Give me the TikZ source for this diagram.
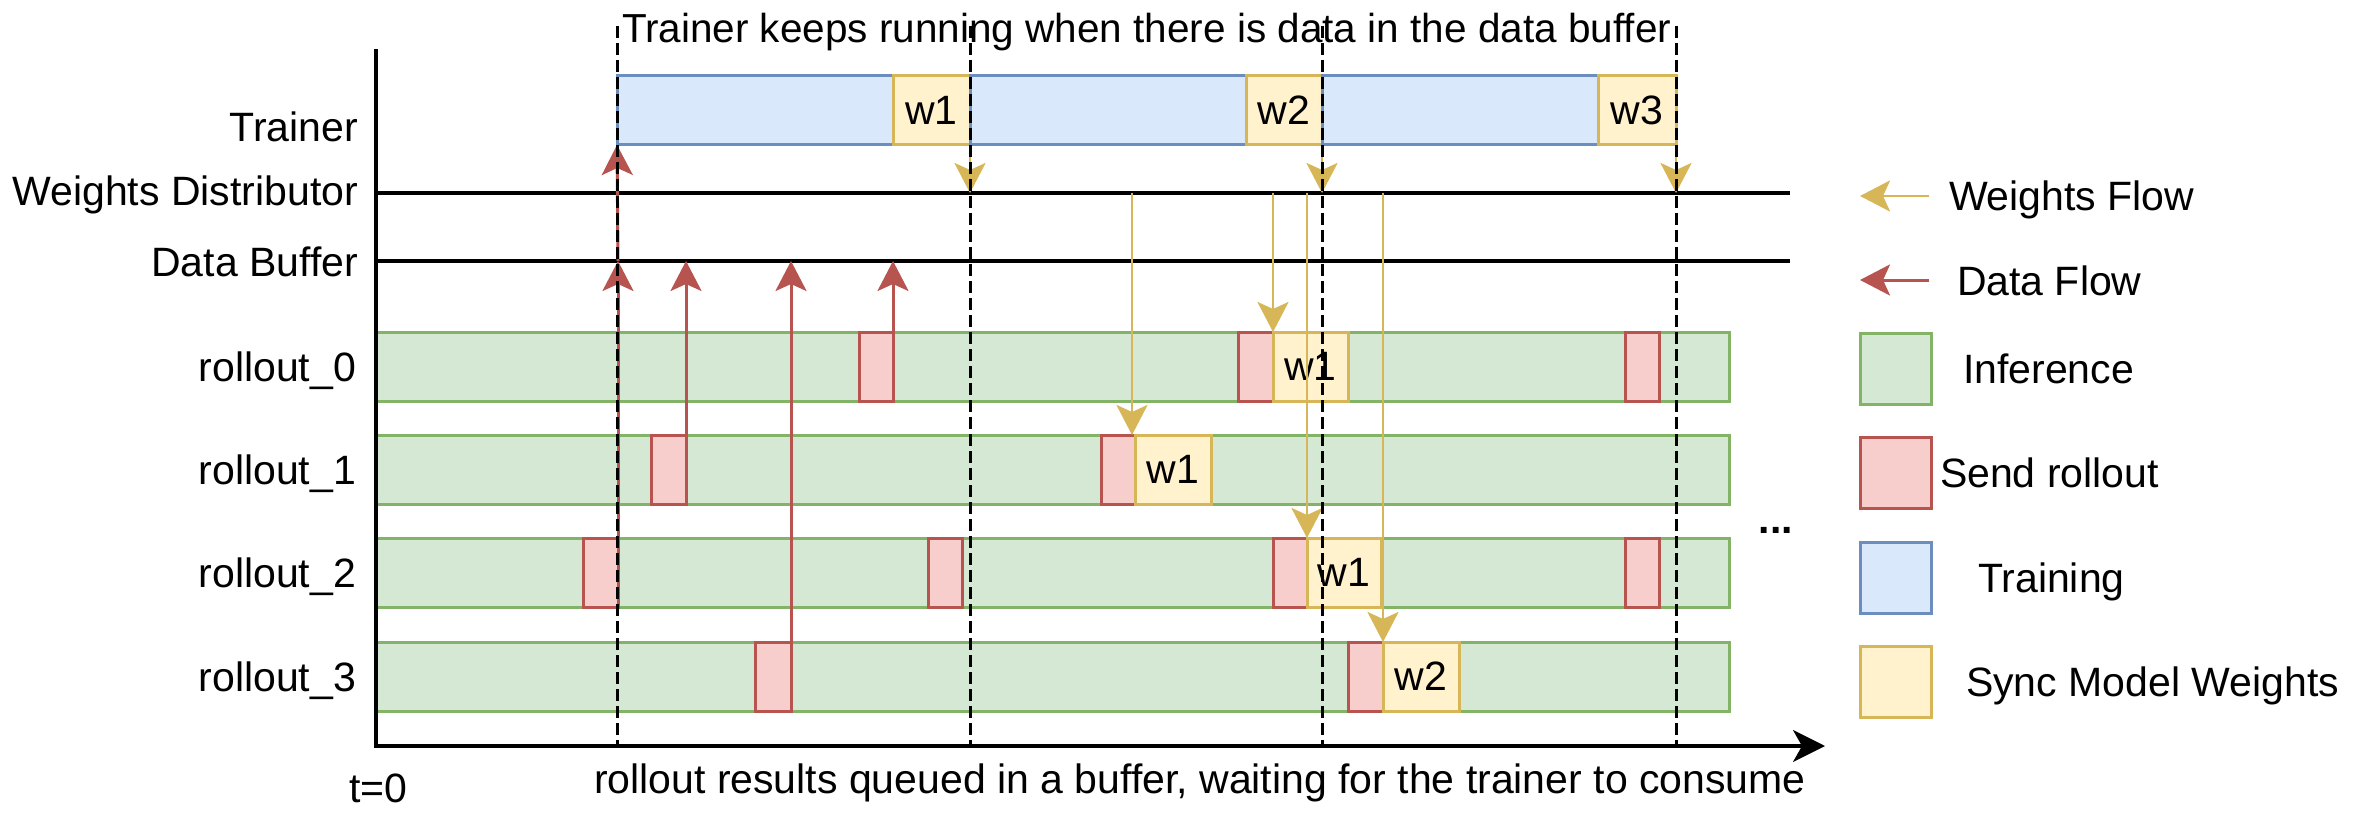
\documentclass[tikz,border=0pt]{standalone}
\usepackage{fontspec}
\setmainfont{Liberation Sans}
\usetikzlibrary{arrows.meta}
\definecolor{gfill}{HTML}{D5E8D4}
\definecolor{gdraw}{HTML}{82B366}
\definecolor{rfill}{HTML}{F8CECC}
\definecolor{rdraw}{HTML}{B85450}
\definecolor{bfill}{HTML}{DAE8FC}
\definecolor{bdraw}{HTML}{6C8EBF}
\definecolor{yfill}{HTML}{FFF2CC}
\definecolor{ydraw}{HTML}{D6B656}
\begin{document}
\begin{tikzpicture}[x=1pt,y=-1pt,
  txt/.style={inner sep=0pt, outer sep=0pt, font=\fontsize{41}{49}\selectfont},
  box/.style={draw, line width=3pt, inner sep=0pt, outer sep=0pt, anchor=north west, minimum height=69pt, font=\fontsize{41}{49}\selectfont},
  inf/.style={box, fill=gfill, draw=gdraw},
  snd/.style={box, fill=rfill, draw=rdraw},
  trn/.style={box, fill=bfill, draw=bdraw},
  syn/.style={box, fill=yfill, draw=ydraw},
  hline/.style={line width=3.5pt, draw=black},
  dline/.style={line width=3pt, draw=black, dash pattern=on 12pt off 5pt},
  tip/.style={-{Stealth[length=30pt,width=31pt,inset=7pt]}},
  rarr/.style={draw=rdraw, line width=3pt, tip},
  yarr/.style={draw=ydraw, line width=2.8pt, tip},
]
\useasboundingbox[fill=white] (0,0) rectangle (2355,813);

% axis and timeline coordinates
\coordinate (ytop) at (376,49);
\coordinate (o) at (376,746);
\coordinate (xend) at (1825,746);
\coordinate (wd) at (376,193);
\coordinate (wdE) at (1790,193);
\coordinate (db) at (376,261);
\coordinate (dbE) at (1790,261);
\coordinate (dtop) at (376,26);

% rollout bars
\node[inf, minimum width=1353pt] (r0) at (376,332) {};
\node[inf, minimum width=1353pt] (r1) at (376,435) {};
\node[inf, minimum width=1353pt] (r2) at (376,538) {};
\node[inf, minimum width=1353pt] (r3) at (376,642) {};

% rollout_0
\node[snd, minimum width=34pt] (r0a) at (859,332) {};
\node[snd, minimum width=35pt] (r0b) at (1238,332) {};
\node[syn, minimum width=75pt] (r0w) at (1273,332) {w1};
\node[snd, minimum width=34pt] (r0c) at (1625,332) {};
% rollout_1
\node[snd, minimum width=35pt] (r1a) at (651,435) {};
\node[snd, minimum width=34pt] (r1b) at (1101,435) {};
\node[syn, minimum width=76pt] (r1w) at (1135,435) {w1};
% rollout_2
\node[snd, minimum width=35pt] (r2a) at (583,538) {};
\node[snd, minimum width=34pt] (r2b) at (928,538) {};
\node[snd, minimum width=34pt] (r2c) at (1273,538) {};
\node[syn, minimum width=74pt] (r2w) at (1307,538) {w1};
\node[snd, minimum width=34pt] (r2d) at (1625,538) {};
% rollout_3
\node[snd, minimum width=36pt] (r3a) at (755,642) {};
\node[snd, minimum width=35pt] (r3b) at (1348,642) {};
\node[syn, minimum width=76pt] (r3w) at (1383,642) {w2};

% trainer
\node[trn, minimum width=276pt] (tb1) at (617,76) {};
\node[syn, minimum width=77pt] (tw1) at (893,76) {w1};
\node[trn, minimum width=276pt] (tb2) at (970,76) {};
\node[syn, minimum width=76pt] (tw2) at (1246,76) {w2};
\node[trn, minimum width=276pt] (tb3) at (1322,76) {};
\node[syn, minimum width=78pt] (tw3) at (1598,76) {w3};

% row labels
\node[txt, anchor=base east] (lt) at (358,142) {Trainer};
\node[txt, anchor=base east] (lw) at (358,206) {Weights Distributor};
\node[txt, anchor=base east] (ld) at (358,276) {Data Buffer};
\node[txt, anchor=base east] (l0) at (356,381) {rollout\_0};
\node[txt, anchor=base east] (l1) at (356,484) {rollout\_1};
\node[txt, anchor=base east] (l2) at (356,587) {rollout\_2};
\node[txt, anchor=base east] (l3) at (356,691) {rollout\_3};

% other texts
\node[txt, anchor=base west, font=\fontsize{40.5}{48}\selectfont] (ttop) at (622,43) {Trainer keeps running when there is data in the data buffer};
\node[txt, anchor=base west] (t0) at (349,802) {t=0};
\node[txt, anchor=base west] (tbot) at (594,793) {rollout results queued in a buffer, waiting for the trainer to consume};
\node[txt, anchor=base, font=\fontsize{41}{49}\selectfont\bfseries] (dots) at (1776,533) {...};

% axes and lanes
\draw[hline, line join=miter, -{Stealth[length=32pt,width=32pt,inset=9pt]}] (ytop) -- (o) -- (xend);
\draw[hline] (wd) -- (wdE);
\draw[hline] (db) -- (dbE);

% data flow
\draw[rarr] (r2a.north east) -- (r2a.north east |- db);
\draw[rarr] (r2a.north east |- db) -- (tb1.south west);
\draw[rarr] (r1a.north east) -- (r1a.north east |- db);
\draw[rarr] (r3a.north east) -- (r3a.north east |- db);
\draw[rarr] (r0a.north east) -- (r0a.north east |- db);

% weights flow
\draw[yarr] (tw1.south east) -- (tw1.south east |- wd);
\draw[yarr] (tw2.south east) -- (tw2.south east |- wd);
\draw[yarr] (tw3.south east) -- (tw3.south east |- wd);
\draw[yarr] ([xshift=-3pt]r1w.north west |- wd) -- ([xshift=-3pt]r1w.north west);
\draw[yarr] (r0w.north west |- wd) -- (r0w.north west);
\draw[yarr] (r2w.north west |- wd) -- (r2w.north west);
\draw[yarr] (r3w.north west |- wd) -- (r3w.north west);

% dashed time markers
\draw[dline] (tb1.north west |- dtop) -- (tb1.north west |- o);
\draw[dline] (tw1.north east |- dtop) -- (tw1.north east |- o);
\draw[dline] (tw2.north east |- dtop) -- (tw2.north east |- o);
\draw[dline] (tw3.north east |- dtop) -- (tw3.north east |- o);

% legend
\coordinate (lgw1) at (1929,196);
\coordinate (lgw2) at (1860,196);
\coordinate (lgd1) at (1929,280);
\coordinate (lgd2) at (1860,280);
\draw[yarr] (lgw1) -- (lgw2);
\draw[rarr] (lgd1) -- (lgd2);
\node[txt, anchor=base west] (lgwt) at (1949,211) {Weights Flow};
\node[txt, anchor=base west] (lgdt) at (1957,295) {Data Flow};
\node[inf, minimum width=71pt, minimum height=71pt] (lgi) at (1860,333) {};
\node[snd, minimum width=71pt, minimum height=71pt] (lgs) at (1860,437) {};
\node[trn, minimum width=71pt, minimum height=71pt] (lgt) at (1860,542) {};
\node[syn, minimum width=71pt, minimum height=71pt] (lgy) at (1860,646) {};
\node[txt, anchor=base west] (lgit) at (1963,383) {Inference};
\node[txt, anchor=base west] (lgst) at (1940,487) {Send rollout};
\node[txt, anchor=base west] (lgtt) at (1978,592) {Training};
\node[txt, anchor=base west] (lgyt) at (1966,696) {Sync Model Weights};
\end{tikzpicture}
\end{document}
